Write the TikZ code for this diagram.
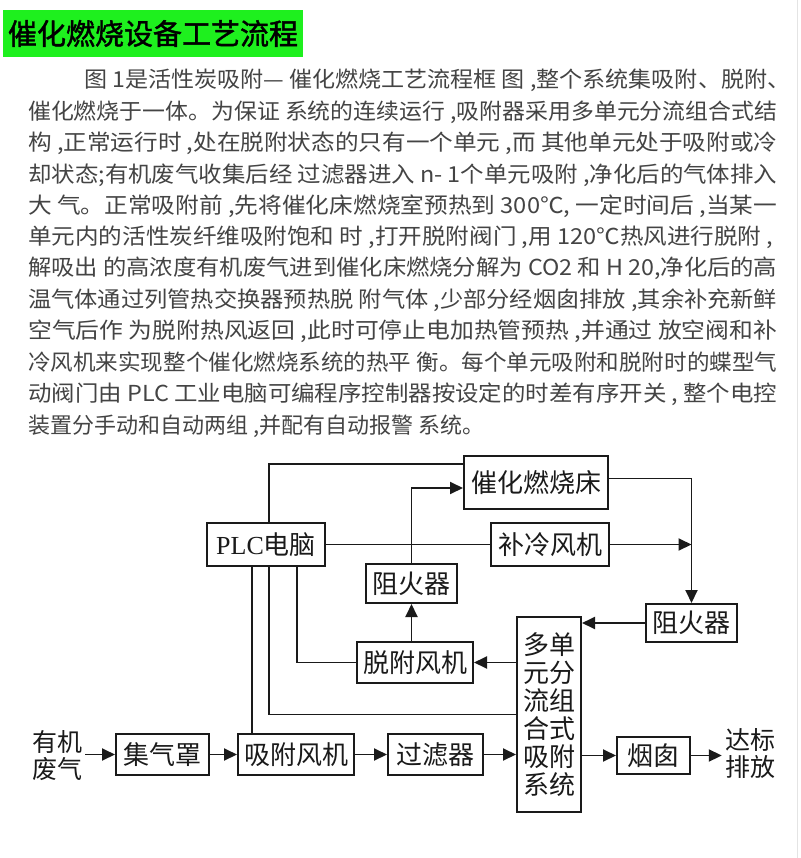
\documentclass[tikz,border=0pt]{standalone}
\usepackage{fontspec}
\usepackage{xcolor}
\usetikzlibrary{arrows.meta}
\newfontfamily\cjk{Noto Sans CJK SC}
\newfontfamily\cjkheavy[FakeBold=1.5]{Noto Sans CJK SC}
\newfontfamily\latinserif{Liberation Serif}
\definecolor{flowink}{HTML}{1A1A1A}
\definecolor{bodyink}{HTML}{444444}
\definecolor{titlegreen}{HTML}{1EF01E}
\definecolor{pagerule}{HTML}{E4E4E4}
\newcommand{\fitline}[2]{\resizebox{#1}{\height}{#2}}

\begin{document}
\begin{tikzpicture}[x=1pt, y=-1pt,
                    para/.style={anchor=west, inner sep=0pt, text=bodyink,
                                 font=\cjk\fontsize{22pt}{24pt}\selectfont},
                    box/.style={draw=flowink, line width=2pt, text=flowink,
                                inner xsep=6pt, minimum height=41pt,
                                font=\cjk\fontsize{26pt}{28pt}\selectfont},
                    tag/.style={inner sep=3pt, text=flowink, align=center,
                                font=\cjk\fontsize{25pt}{27pt}\selectfont},
                    link/.style={draw=flowink, line width=1.9pt},
                    flow/.style={link, -{Triangle[length=13pt, width=12pt]}}]

  \fill[white] (0,0) rectangle (800,858);
  \useasboundingbox (0,0) rectangle (800,858);
  \draw[pagerule, line width=1pt] (797.5,0) -- (797.5,858);

  %% ---- 標題 ----
  \node[fill=titlegreen, inner sep=0pt, minimum width=300pt, minimum height=47pt,
        font=\cjkheavy\fontsize{29pt}{31pt}\selectfont] (title) at (153,33.5) {催化燃烧设备工艺流程};

  %% ---- 說明文字, 每行一個節點 ----
  \node[para] (line1) at (84,80) {\fitline{706pt}{图 1是活性炭吸附— 催化燃烧工艺流程框 图 ,整个系统集吸附、脱附、}};
  \node[para] (line2) at (28,112) {\fitline{749pt}{催化燃烧于一体。为保证 系统的连续运行 ,吸附器采用多单元分流组合式结}};
  \node[para] (line3) at (28,143) {\fitline{749pt}{构 ,正常运行时 ,处在脱附状态的只有一个单元 ,而 其他单元处于吸附或冷}};
  \node[para] (line4) at (28,175) {\fitline{749pt}{却状态;有机废气收集后经 过滤器进入 n- 1个单元吸附 ,净化后的气体排入}};
  \node[para] (line5) at (28,206) {\fitline{749pt}{大 气。正常吸附前 ,先将催化床燃烧室预热到 300℃, 一定时间后 ,当某一}};
  \node[para] (line6) at (28,237) {\fitline{745pt}{单元内的活性炭纤维吸附饱和 时 ,打开脱附阀门 ,用 120℃热风进行脱附 ,}};
  \node[para] (line7) at (28,268) {\fitline{749pt}{解吸出 的高浓度有机废气进到催化床燃烧分解为 CO2 和 H 20,净化后的高}};
  \node[para] (line8) at (28,300) {\fitline{749pt}{温气体通过列管热交换器预热脱 附气体 ,少部分经烟囱排放 ,其余补充新鲜}};
  \node[para] (line9) at (28,331) {\fitline{749pt}{空气后作 为脱附热风返回 ,此时可停止电加热管预热 ,并通过 放空阀和补}};
  \node[para] (line10) at (28,362) {\fitline{749pt}{冷风机来实现整个催化燃烧系统的热平 衡。每个单元吸附和脱附时的蝶型气}};
  \node[para] (line11) at (28,394) {\fitline{749pt}{动阀门由 PLC 工业电脑可编程序控制器按设定的时差有序开关 , 整个电控}};
  \node[para] (line12) at (28,426) {装置分手动和自动两组 ,并配有自动报警 系统。};

  %% ---- 流程框 ----
  \node[box, minimum width=144pt, minimum height=53pt] (bed) at (536,482.5) {催化燃烧床};
  \node[box, minimum width=118pt, minimum height=43pt] (plc) at (266,544.5) {{\latinserif PLC}电脑};
  \node[box, minimum width=118pt, minimum height=43pt] (cooler) at (550,544.5) {补冷风机};
  \node[box, minimum width=91pt, minimum height=39pt] (arrestA) at (411.5,583.5) {阻火器};
  \node[box, minimum width=91pt, minimum height=38pt] (arrestB) at (691.5,623) {阻火器};
  \node[box, minimum width=116pt] (desorbfan) at (415,662.5) {脱附风机};
  \node[box, minimum width=64pt, minimum height=195pt, align=center,
        font=\cjk\fontsize{26pt}{28pt}\selectfont] (unit) at (549,714.5) {多单\\元分\\流组\\合式\\吸附\\系统};
  \node[box, minimum width=93pt] (hood) at (162.5,754.5) {集气罩};
  \node[box, minimum width=116pt] (adsorbfan) at (296,754.5) {吸附风机};
  \node[box, minimum width=95pt] (filter) at (435.5,754.5) {过滤器};
  \node[box, minimum width=73pt, minimum height=37pt] (stack) at (653.5,755.5) {烟囱};
  \node[tag] (gasin) at (57,756) {有机\\废气};
  \node[tag] (gasout) at (750,754) {达标\\排放};

  %% PLC 往下的三條控制線
  \coordinate (busA) at (252,0);
  \coordinate (busB) at (269,0);
  \coordinate (busC) at (297,0);

  %% ---- 主氣流 ----
  \draw[flow] (gasin.east |- hood) -- (hood.west);
  \draw[flow] (hood) -- (adsorbfan);
  \draw[flow] (adsorbfan) -- (filter);
  \draw[flow] (filter.east) -- (filter.east -| unit.west);
  \draw[flow] (unit.east |- stack) -- (stack.west);
  \draw[flow] (stack.east) -- (gasout.west |- stack);

  %% ---- PLC 控制線 ----
  \draw[link] (plc.north -| busB) |- ([yshift=-9pt]bed.north west);
  \draw[link] (plc) -- (cooler);
  \draw[link] (plc.south -| busA) -- (adsorbfan.north -| busA);
  \draw[link] (plc.south -| busB) |- (unit.west);
  \draw[link] (plc.south -| busC) |- (desorbfan.west);

  %% ---- 脫附與燃燒迴路 ----
  \draw[flow] (desorbfan.east -| unit.west) -- (desorbfan.east);
  \draw[flow] (desorbfan.north -| arrestA) -- (arrestA.south);
  \draw[flow] (arrestA.north) |- ([yshift=-5.5pt]bed.west);
  \draw[flow] ([yshift=4pt]bed.east) -| (arrestB.north);
  \draw[flow] (cooler.east) -- (cooler.east -| arrestB.north);
  \draw[flow] (arrestB.west) -- (arrestB.west -| unit.east);

\end{tikzpicture}
\end{document}
